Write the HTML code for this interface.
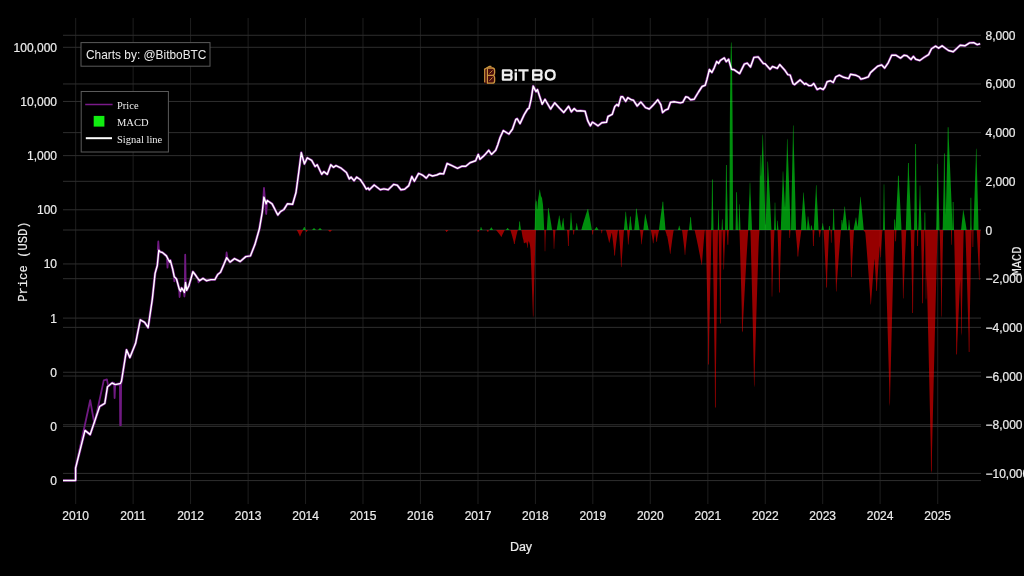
<!DOCTYPE html>
<html><head><meta charset="utf-8">
<style>
html,body{margin:0;padding:0;background:#000;}
body{width:1024px;height:576px;overflow:hidden;}
svg{display:block;will-change:transform;}
.gh{stroke:#2e2e2e;stroke-width:1;}
.gv{stroke:#1e1e1e;stroke-width:1;}
.tk{font-family:"Liberation Sans",sans-serif;font-size:12px;fill:#ececec;stroke:#ececec;stroke-width:0.2;}
.mono{font-family:"Liberation Mono",monospace;font-size:12px;fill:#ececec;stroke:#ececec;stroke-width:0.15;}
.lg{font-family:"Liberation Serif",serif;font-size:10.5px;fill:#eeeeee;}
</style></head><body>
<svg width="1024" height="576" viewBox="0 0 1024 576">
<rect x="0" y="0" width="1024" height="576" fill="#000"/>
<g><line class="gv" x1="75.7" y1="18" x2="75.7" y2="504"/>
<line class="gv" x1="133.13" y1="18" x2="133.13" y2="504"/>
<line class="gv" x1="190.55" y1="18" x2="190.55" y2="504"/>
<line class="gv" x1="248.13" y1="18" x2="248.13" y2="504"/>
<line class="gv" x1="305.56" y1="18" x2="305.56" y2="504"/>
<line class="gv" x1="362.98" y1="18" x2="362.98" y2="504"/>
<line class="gv" x1="420.41" y1="18" x2="420.41" y2="504"/>
<line class="gv" x1="477.99" y1="18" x2="477.99" y2="504"/>
<line class="gv" x1="535.42" y1="18" x2="535.42" y2="504"/>
<line class="gv" x1="592.84" y1="18" x2="592.84" y2="504"/>
<line class="gv" x1="650.27" y1="18" x2="650.27" y2="504"/>
<line class="gv" x1="707.85" y1="18" x2="707.85" y2="504"/>
<line class="gv" x1="765.28" y1="18" x2="765.28" y2="504"/>
<line class="gv" x1="822.7" y1="18" x2="822.7" y2="504"/>
<line class="gv" x1="880.13" y1="18" x2="880.13" y2="504"/>
<line class="gv" x1="937.71" y1="18" x2="937.71" y2="504"/>
<line class="gh" x1="63" y1="47.3" x2="981" y2="47.3"/>
<line class="gh" x1="63" y1="101.46" x2="981" y2="101.46"/>
<line class="gh" x1="63" y1="155.62" x2="981" y2="155.62"/>
<line class="gh" x1="63" y1="209.78" x2="981" y2="209.78"/>
<line class="gh" x1="63" y1="263.94" x2="981" y2="263.94"/>
<line class="gh" x1="63" y1="318.1" x2="981" y2="318.1"/>
<line class="gh" x1="63" y1="372.26" x2="981" y2="372.26"/>
<line class="gh" x1="63" y1="426.42" x2="981" y2="426.42"/>
<line class="gh" x1="63" y1="480.58" x2="981" y2="480.58"/>
<line class="gh" x1="63" y1="35.28" x2="981" y2="35.28"/>
<line class="gh" x1="63" y1="83.96" x2="981" y2="83.96"/>
<line class="gh" x1="63" y1="132.64" x2="981" y2="132.64"/>
<line class="gh" x1="63" y1="181.32" x2="981" y2="181.32"/>
<line class="gh" x1="63" y1="230" x2="981" y2="230"/>
<line class="gh" x1="63" y1="278.68" x2="981" y2="278.68"/>
<line class="gh" x1="63" y1="327.36" x2="981" y2="327.36"/>
<line class="gh" x1="63" y1="376.04" x2="981" y2="376.04"/>
<line class="gh" x1="63" y1="424.72" x2="981" y2="424.72"/>
<line class="gh" x1="63" y1="473.4" x2="981" y2="473.4"/></g>
<path d="M63 480.5 L75.6 480.5 L75.6 468 L85 430.4 L90.2 434.6 L99.6 406.5 L104.8 403.3 L107.5 386.7 L112 383 L115.2 384.6 L120.4 383.5 L121.5 381 L126.5 349.8 L129.9 357.6 L135.6 343.3 L140.3 319.8 L144.7 322.4 L148.1 327.7 L152.3 299.3 L155.1 273.4 L157.3 265.5 L158.8 250.2 L160.2 251.9 L162.4 252.5 L166.4 255.9 L168.1 259.3 L169.8 262.1 L170.3 260.4 L172.6 268.9 L174.3 276.8 L176.5 279 L179.3 289.2 L180.5 291.4 L181.6 288 L183.3 290.3 L184.4 292.5 L185.5 282.4 L186.7 290.3 L188.9 285.8 L192.9 271.7 L195.1 274.5 L197.4 277.9 L199.6 280.7 L203 278.4 L206.4 280.7 L210.9 279.6 L214.9 279.6 L217.7 274.5 L220.5 272.2 L223.4 265.5 L226.7 257.6 L230 262.1 L234.5 258.6 L240.2 261.5 L245.8 256.6 L250.4 255.9 L254.9 244.6 L259.4 228.8 L262.3 211.8 L263.9 197.1 L266.2 203.9 L267.3 200.5 L272.1 203.8 L277.8 215 L280.4 211.6 L283.9 209.5 L287.4 203.8 L292.6 204.3 L296 192.5 L298.6 173.4 L301.3 152.6 L304.4 163.9 L307.3 157.8 L311.7 160.4 L315.1 166.5 L317.2 164.7 L321.7 174.3 L323.8 171.7 L327.3 174.3 L330.8 164.7 L333.4 167.3 L336 165.6 L341.2 168.2 L346.4 172.5 L349.3 178.9 L351.1 177.1 L354.1 180.7 L356.6 177.1 L360.2 179.5 L363.2 183.8 L366.3 189.2 L368.1 188 L369.3 189.8 L374.2 185 L380.3 189.8 L383.9 188.9 L388.2 189.8 L393.6 184.4 L397.3 185.2 L400.9 189.8 L404.6 189.2 L408.8 185.6 L411.9 176.5 L414.3 181.3 L418.6 173.4 L421.6 174.7 L422.8 175.3 L426.3 178.1 L429 174.6 L432.5 176 L436.7 175 L440.1 173.5 L443.6 173.9 L447.1 163.5 L451.9 165.6 L457.5 168.3 L461.7 166.3 L465.8 166.3 L470 162.8 L475.6 160.7 L478.3 154.4 L480 159.3 L484.6 155.1 L488.75 150.3 L491.5 154.4 L495.7 150.3 L497.8 144.7 L500 137.8 L503.3 130.6 L508.9 134 L512.4 129.2 L515.8 119.4 L517.2 118.75 L520 123.6 L524.2 114.6 L527.6 109 L529 108.3 L531.1 99.3 L533.2 86.1 L534.6 88.9 L536 91.7 L537.4 89.6 L542.2 104.2 L545 99.3 L550.6 109 L554.7 102.8 L559.6 108.3 L563.75 112.5 L568.6 106.25 L571.4 111.8 L574.2 108.6 L576.8 111 L580.4 110.7 L585.1 111.25 L587.7 120.6 L590.3 125.8 L592.4 122.2 L595 123.75 L598.1 125.8 L601.8 122.7 L606.5 122.2 L608 116.5 L612.2 114.4 L614.8 106.6 L616.9 104.5 L618.4 106 L621 96.7 L622.6 96.7 L625.7 101.4 L627.8 97.7 L631.5 99.8 L633.5 100.3 L637.2 106 L640.8 101.9 L645.5 107.6 L649.3 109 L653.5 104.7 L657.8 99.8 L660.8 104.7 L662.6 112.6 L665.1 110.2 L668.1 109 L670.5 102.3 L674.2 101.7 L680.3 102.9 L682.7 102.3 L685.7 96.8 L688.2 97.4 L690.6 99.8 L694.2 99.2 L698.5 92 L702.1 86.5 L705.2 85.3 L707 79.2 L709.4 69.5 L711.9 72.5 L714.3 67.6 L716.7 61.5 L718.6 63.4 L720.4 60.3 L724.3 57.9 L726.2 61.7 L728.6 59.3 L731.5 69.3 L734.3 69.8 L739.6 73.6 L744.3 64.1 L747.2 63.1 L750.5 67 L753.9 57.4 L758.2 56.9 L763.4 63.6 L764.9 63.6 L770.1 69.3 L772.5 66.5 L777.3 68.4 L779.7 64.6 L784.9 70.3 L787.8 74.6 L790.2 75.1 L793 83.7 L794.5 84.6 L800.2 79.9 L804.5 84.3 L805.8 83.4 L808.9 85.6 L811.5 85.6 L813.7 83.4 L817.1 89.5 L820.2 88.2 L823.2 89.5 L824.9 87.3 L827.1 81.7 L830.6 80.8 L833.2 82.5 L835.8 76.9 L839.3 75.2 L843.6 77.3 L848.8 78.6 L850.5 74.3 L855.7 75.2 L859.2 76.9 L860.9 79.1 L864.4 78.2 L868.3 76.9 L870.5 72.6 L872.9 70.4 L877.6 66.3 L881.7 64.9 L884.6 68.1 L888.2 62.8 L891.7 55.2 L895.8 55.2 L900.5 58.1 L904 55.2 L906.9 55.8 L911 59.5 L913.4 56.4 L915.7 59.3 L919.8 60.5 L923.9 57.5 L928.6 54.6 L931.5 48.75 L935.6 46.2 L938.6 48.2 L942.1 45.8 L948.5 50.5 L953.2 51.7 L960.2 45.2 L964.9 45.8 L969.6 42.9 L973.7 42.7 L977.2 44.6 L980.2 43.8" fill="none" stroke="#701a82" stroke-width="2.7" stroke-linejoin="round"/>
<path d="M75.6 468 L90.2 400.2 L94.4 424 L103.75 380.4 L106.9 379.4 L108.3 386.7 L113 382.5 L114.2 383 L114.6 398 L115.2 384 L118.3 384.6 L119.9 384 L120.2 425.2 L120.8 425.2 L121.1 385 L123.5 370M157.8 250 L158.3 241.5 L158.9 250M184.8 290 L185.2 254.7 L185.7 285M226 259 L226.6 252.5 L227.5 259M263.2 200 L264 188 L265 200 L266.2 214 L267 202M167 259 L167.5 267.7 L168.2 260M173.8 274 L174.3 281.3 L175 277M179.1 289 L179.6 297 L180.3 291M183.9 292 L184.4 296.5 L185 290M198 278 L198.5 282.4 L199.2 280" fill="none" stroke="#701a82" stroke-width="1.8" stroke-linejoin="round"/>
<path d="M302.5 230 L302.5 230 L302.75 229.46 L303 228.99 L303.25 228.54 L303.5 228.11 L303.75 227.7 L304 226.9 L304.25 226.88 L304.5 226.9 L304.75 226.9 L305 228.02 L305.25 228.47 L305.5 228.94 L305.75 229.43 L306 230 L306 230ZM312 230 L312 230 L312.25 229.69 L312.5 229.43 L312.75 229.17 L313 228.93 L313.25 228.69 L313.5 228.46 L313.75 228.06 L314 228 L314.25 228.06 L314.5 228.46 L314.75 228.69 L315 228.93 L315.25 229.17 L315.5 229.43 L315.75 229.69 L316 230 L316 230ZM318 230 L318 230 L318.25 229.69 L318.5 229.43 L318.75 229.17 L319 228.93 L319.25 228.69 L319.5 228.46 L319.75 228.06 L320 228 L320.25 228.06 L320.5 228.46 L320.75 228.69 L321 228.93 L321.25 229.17 L321.5 229.43 L321.75 229.69 L322 230 L322 230ZM480 230 L480 230 L480.25 229.14 L480.5 228.39 L480.75 227.09 L481 227 L481.25 227.09 L481.5 227.92 L481.75 228.39 L482 228.88 L482.25 229.4 L482.5 230 L482.5 230ZM489.5 230 L489.5 230 L489.75 229.56 L490 229.19 L490.25 228.83 L490.5 228.48 L490.75 228.15 L491 227.38 L491.25 227.38 L491.5 227.38 L491.75 227.38 L492 228.23 L492.25 228.63 L492.5 229.05 L492.75 229.49 L493 230 L493 230ZM506 230 L506 230 L506.25 229.62 L506.5 229.3 L506.75 228.99 L507 228.69 L507.25 228.06 L507.5 228.06 L507.75 228.06 L508 228.06 L508.25 228.63 L508.5 228.88 L508.75 229.13 L509 229.4 L509.25 229.68 L509.5 230 L509.5 230ZM518.5 230 L518.5 230 L518.75 227.68 L519 225.67 L519.25 221.46 L519.5 221.46 L519.75 221.46 L520 221.46 L520.25 224.98 L520.5 226.52 L520.75 228.13 L521 230 L521 230ZM534.5 230 L534.5 230 L534.75 227.5 L535 215 L535.25 204.59 L535.5 202.53 L535.75 200.46 L536 198.4 L536.25 201.68 L536.5 200.8 L536.75 201.68 L537 209.73 L537.25 209 L537.5 206 L537.75 203 L538 200 L538.25 198.4 L538.5 196.79 L538.75 195.19 L539 193.59 L539.25 191.99 L539.5 190.33 L539.75 189.37 L540 190.33 L540.25 192.02 L540.5 193.35 L540.75 194.67 L541 196 L541.25 196.5 L541.5 197 L541.75 197.5 L542 198 L542.25 199.75 L542.5 201.5 L542.75 203.25 L543 205 L543.25 209.64 L543.5 214.29 L543.75 219.2 L544 225.2 L544.25 230 L544.25 230ZM546.75 230 L546.75 230 L547 226.3 L547.25 222.32 L547.5 218.57 L547.75 214.95 L548 207.98 L548.25 207.98 L548.5 207.98 L548.75 209.8 L549 211.2 L549.25 212.62 L549.5 214.05 L549.75 215.49 L550 216.95 L550.25 218.43 L550.5 219.93 L550.75 221.45 L551 223.01 L551.25 224.6 L551.5 226.25 L551.75 227.99 L552 230 L552 230ZM556.5 230 L556.5 230 L556.75 229.58 L557 227.88 L557.25 226.34 L557.5 224.88 L557.75 223.46 L558 222.07 L558.25 220.71 L558.5 219.37 L558.75 218.05 L559 215.64 L559.25 215.46 L559.5 215.64 L559.75 217.95 L560 219.52 L560.25 221.1 L560.5 222.72 L560.75 224.38 L561 226.1 L561.25 227.91 L561.5 226.78 L561.75 225.37 L562 224 L562.25 222.67 L562.5 221.36 L562.75 220.07 L563 218.17 L563.25 218.17 L563.5 218.17 L563.75 222.56 L564 224.84 L564.25 227.23 L564.5 230 L564.5 230ZM569.75 230 L569.75 230 L570 226.53 L570.25 222.8 L570.5 219.29 L570.75 213.12 L571 212.6 L571.25 213.12 L571.5 217.92 L571.75 220.68 L572 223.53 L572.25 226.53 L572.5 230 L572.5 230ZM575.5 230 L575.5 230 L575.75 228.29 L576 226.82 L576.25 225.41 L576.5 223.21 L576.75 223.21 L577 223.21 L577.25 225.73 L577.5 227.04 L577.75 228.41 L578 230 L578 230ZM581.25 230 L581.25 230 L581.5 229.5 L581.75 228.46 L582 227.49 L582.25 226.57 L582.5 225.67 L582.75 224.8 L583 223.94 L583.25 223.09 L583.5 222.26 L583.75 221.43 L584 220.62 L584.25 219.81 L584.5 219.01 L584.75 218.21 L585 217.43 L585.25 216.64 L585.5 215.86 L585.75 215.09 L586 214.32 L586.25 213.56 L586.5 212.8 L586.75 212.04 L587 211.29 L587.25 210.54 L587.5 209.24 L587.75 209.04 L588 209.09 L588.25 209.24 L588.5 211.59 L588.75 212.85 L589 214.12 L589.25 215.4 L589.5 216.7 L589.75 218 L590 219.33 L590.25 220.67 L590.5 222.04 L590.75 223.43 L591 224.86 L591.25 226.33 L591.5 227.87 L591.75 229.58 L592 230 L592 230ZM594.5 230 L594.5 230 L594.75 229.52 L595 229.11 L595.25 228.72 L595.5 228.34 L595.75 227.97 L596 227.61 L596.25 226.99 L596.5 226.9 L596.75 226.99 L597 227.61 L597.25 227.97 L597.5 228.34 L597.75 228.72 L598 229.11 L598.25 229.52 L598.5 230 L598.5 230ZM623.75 230 L623.75 230 L624 228.61 L624.25 225.71 L624.5 223.02 L624.75 220.46 L625 217.96 L625.25 215.53 L625.5 211.81 L625.75 211.65 L626 211.81 L626.25 215.73 L626.5 217.82 L626.75 219.95 L627 222.13 L627.25 224.39 L627.5 226.75 L627.75 229.35 L628 230 L628 230ZM628.75 230 L628.75 230 L629 227.85 L629.25 225.53 L629.5 223.35 L629.75 221.24 L630 216.42 L630.25 216.42 L630.5 216.42 L630.75 216.42 L631 220.83 L631.25 222.92 L631.5 225.09 L631.75 227.37 L632 230 L632 230ZM634.25 230 L634.25 230 L634.5 227.36 L634.75 224.53 L635 221.85 L635.25 219.27 L635.5 216.77 L635.75 214.31 L636 208.76 L636.25 208.76 L636.5 208.74 L636.75 208.76 L637 211.95 L637.25 213.59 L637.5 215.24 L637.75 216.91 L638 218.61 L638.25 220.33 L638.5 222.09 L638.75 223.89 L639 225.76 L639.25 227.73 L639.5 230 L639.5 230ZM643.25 230 L643.25 230 L643.5 228.81 L643.75 226.31 L644 224.01 L644.25 221.8 L644.5 219.66 L644.75 217.57 L645 214.38 L645.25 214.11 L645.5 214.38 L645.75 216.26 L646 217.35 L646.25 218.45 L646.5 219.57 L646.75 220.69 L647 221.83 L647.25 222.99 L647.5 224.17 L647.75 225.38 L648 226.62 L648.25 227.92 L648.5 229.33 L648.75 230 L648.75 230ZM659 230 L659 230 L659.25 227.54 L659.5 225.4 L659.75 223.38 L660 221.42 L660.25 219.51 L660.5 217.64 L660.75 215.8 L661 213.99 L661.25 212.2 L661.5 210.43 L661.75 208.68 L662 206.94 L662.25 205.22 L662.5 201.68 L662.75 201.68 L663 201.68 L663.25 201.68 L663.5 206.94 L663.75 209.55 L664 212.2 L664.25 214.89 L664.5 217.64 L664.75 220.46 L665 223.38 L665.25 226.45 L665.5 230 L665.5 230ZM678 230 L678 230 L678.25 228.95 L678.5 228.04 L678.75 227.18 L679 225.83 L679.25 225.83 L679.5 225.83 L679.75 227.38 L680 228.18 L680.25 229.02 L680.5 230 L680.5 230ZM689 230 L689 230 L689.25 227.52 L689.5 225.37 L689.75 223.33 L690 221.35 L690.25 217.2 L690.5 217.2 L690.75 217.2 L691 217.2 L691.25 222.47 L691.5 224.77 L691.75 227.2 L692 230 L692 230ZM711 230 L711 230 L711.25 227.02 L711.5 215.04 L711.75 204.18 L712 179.46 L712.25 179.46 L712.5 179.46 L712.75 179.46 L713 204.38 L713.25 216.27 L713.5 230 L713.5 230ZM717.75 230 L717.75 230 L718 223.52 L718.25 210.6 L718.5 210 L718.75 210.6 L719 223.52 L719.25 230 L719.25 230ZM721.5 230 L721.5 230 L721.75 225.65 L722 219.33 L722.25 219.33 L722.5 219.33 L722.75 226.14 L723 230 L723 230ZM725 230 L725 230 L725.25 215.79 L725.5 203.48 L725.75 191.8 L726 165.01 L726.25 165.01 L726.5 165.01 L726.75 165.01 L727 186.11 L727.25 196.12 L727.5 206.48 L727.75 217.4 L728 230 L728 230ZM729.25 230 L729.25 230 L729.5 202.5 L729.75 133.75 L730 103.43 L730.25 82.71 L730.5 62 L730.75 49.81 L731 42.5 L731.25 42.5 L731.5 42.5 L731.75 49.81 L732 62 L732.25 86.17 L732.5 110.33 L732.75 153 L733 208 L733.25 230 L733.25 230ZM735.5 230 L735.5 230 L735.75 219.72 L736 210.82 L736.25 192.17 L736.5 192.17 L736.75 192.17 L737 192.17 L737.25 207.76 L737.5 214.56 L737.75 221.73 L738 230 L738 230ZM738.5 230 L738.5 230 L738.75 222.53 L739 216.07 L739.25 204.78 L739.5 204 L739.75 204.78 L740 216.07 L740.25 222.53 L740.5 230 L740.5 230ZM748 230 L748 230 L748.25 222.61 L748.5 216.22 L748.75 210.15 L749 204.28 L749.25 198.56 L749.5 192.95 L749.75 183.44 L750 182 L750.25 183.44 L750.5 192.95 L750.75 198.56 L751 204.28 L751.25 210.15 L751.5 216.22 L751.75 222.61 L752 230 L752 230ZM759 230 L759 230 L759.25 211.33 L759.5 195.16 L759.75 179.82 L760 155.7 L760.25 155.32 L760.5 155.7 L760.75 174.83 L761 176.65 L761.25 170.37 L761.5 164.16 L761.75 158.02 L762 151.94 L762.25 145.91 L762.5 135.72 L762.75 133.98 L763 135.72 L763.25 146.98 L763.5 154.97 L763.75 163.06 L764 171.26 L764.25 179.59 L764.5 188.07 L764.75 196.76 L765 205.7 L765.25 215.04 L765.5 225.16 L765.75 223.75 L766 214.89 L766.25 206.6 L766.5 198.64 L766.75 190.9 L767 183.33 L767.25 175.89 L767.5 162 L767.75 161.34 L768 162 L768.25 167.84 L768.5 172.3 L768.75 176.79 L769 181.33 L769.25 185.92 L769.5 190.56 L769.75 195.26 L770 200.04 L770.25 204.9 L770.5 209.87 L770.75 214.98 L771 220.3 L771.25 225.99 L771.5 230 L771.5 230ZM774 230 L774 230 L774.25 222.02 L774.5 215.1 L774.75 203.03 L775 202.2 L775.25 203.03 L775.5 215.1 L775.75 222.02 L776 230 L776 230ZM776.75 230 L776.75 230 L777 226.96 L777.25 220.88 L777.5 220.6 L777.75 220.88 L778 224.96 L778.25 227.3 L778.5 230 L778.5 230ZM780.75 230 L780.75 230 L781 223.15 L781.25 215.78 L781.5 208.84 L781.75 202.15 L782 195.63 L782.25 189.25 L782.5 182.98 L782.75 172.48 L783 170.7 L783.25 172.48 L783.5 179.67 L783.75 184.23 L784 188.83 L784.25 193.49 L784.5 198.22 L784.75 203.03 L785 207.94 L785.25 201.61 L785.5 193.22 L785.75 185.04 L786 177.03 L786.25 169.14 L786.5 161.37 L786.75 153.7 L787 139.89 L787.25 138.59 L787.5 139.89 L787.75 148.94 L788 155.61 L788.25 162.34 L788.5 169.14 L788.75 176.03 L789 183.03 L789.25 190.13 L789.5 197.39 L789.75 204.83 L790 212.52 L790.25 220.63 L790.5 230 L790.5 230ZM791 230 L791 230 L791.25 214.89 L791.5 201.8 L791.75 189.38 L792 177.37 L792.25 165.67 L792.5 154.2 L792.75 142.92 L793 126.21 L793.25 124.72 L793.5 126.21 L793.75 142.12 L794 150.96 L794.25 159.91 L794.5 168.99 L794.75 178.22 L795 187.64 L795.25 197.3 L795.5 207.3 L795.75 217.84 L796 230 L796 230ZM801 230 L801 230 L801.25 225.22 L801.5 221.07 L801.75 217.14 L802 213.34 L802.25 209.64 L802.5 206.01 L802.75 202.43 L803 198.91 L803.25 193.14 L803.5 192 L803.75 193.14 L804 197.75 L804.25 200.67 L804.5 203.62 L804.75 206.61 L805 209.64 L805.25 212.72 L805.5 215.86 L805.75 219.09 L806 222.42 L806.25 225.94 L806.5 230 L806.5 230ZM806.75 230 L806.75 230 L807 227.27 L807.25 224.33 L807.5 221.57 L807.75 216.71 L808 216.3 L808.25 216.71 L808.5 219.43 L808.75 221.03 L809 222.66 L809.25 224.33 L809.5 226.07 L809.75 227.89 L810 230 L810 230ZM810.5 230 L810.5 230 L810.75 228.52 L811 225.44 L811.25 225.44 L811.5 225.44 L811.75 225.44 L812 227.69 L812.25 228.76 L812.5 230 L812.5 230ZM813.75 230 L813.75 230 L814 225.1 L814.25 219.83 L814.5 214.86 L814.75 210.07 L815 205.4 L815.25 200.84 L815.5 196.35 L815.75 191.92 L816 185.48 L816.25 185 L816.5 185.48 L816.75 194.11 L817 198.76 L817.25 203.49 L817.5 208.31 L817.75 213.26 L818 218.38 L818.25 223.77 L818.5 230 L818.5 230ZM821.5 230 L821.5 230 L821.75 228.29 L822 226.82 L822.25 225.41 L822.5 223.21 L822.75 223.21 L823 223.21 L823.25 225.73 L823.5 227.04 L823.75 228.41 L824 230 L824 230ZM828.75 230 L828.75 230 L829 226.02 L829.25 226.02 L829.5 226.02 L829.75 226.02 L830 228.82 L830.25 230 L830.25 230ZM832.5 230 L832.5 230 L832.75 226.08 L833 220.53 L833.25 209.05 L833.5 209.05 L833.75 209.05 L834 209.05 L834.25 221.6 L834.5 227.28 L834.75 230 L834.75 230ZM841 230 L841 230 L841.25 226.75 L841.5 220.01 L841.75 220.01 L842 220.01 L842.25 220.01 L842.5 224.76 L842.75 222.45 L843 220.22 L843.25 218.05 L843.5 215.92 L843.75 213.82 L844 211.76 L844.25 209.72 L844.5 206.82 L844.75 206.53 L845 206.82 L845.25 210.89 L845.5 213.11 L845.75 215.36 L846 217.65 L846.25 220 L846.5 222.4 L846.75 224.89 L847 227.54 L847.25 230 L847.25 230ZM848 230 L848 230 L848.25 227.04 L848.5 224.48 L848.75 220.01 L849 219.7 L849.25 220.01 L849.5 223.35 L849.75 225.25 L850 227.25 L850.25 229.45 L850.5 230 L850.5 230ZM853.5 230 L853.5 230 L853.75 228.41 L854 227.04 L854.25 225.74 L854.5 224.48 L854.75 223.25 L855 222.04 L855.25 220.86 L855.5 219.69 L855.75 217.78 L856 217.4 L856.25 217.78 L856.5 220.27 L856.75 221.75 L857 223.25 L857.25 224.79 L857.5 226.38 L857.75 226.42 L858 223.32 L858.25 220.38 L858.5 217.54 L858.75 214.76 L859 212.05 L859.25 209.38 L859.5 206.74 L859.75 204.14 L860 201.57 L860.25 197.5 L860.5 196.5 L860.75 197.5 L861 201.25 L861.25 203.66 L861.5 206.09 L861.75 208.55 L862 211.04 L862.25 213.57 L862.5 216.14 L862.75 218.77 L863 221.47 L863.25 224.27 L863.5 227.24 L863.75 230 L863.75 230ZM883 230 L883 230 L883.25 216.7 L883.5 205.19 L883.75 185.09 L884 183.7 L884.25 185.09 L884.5 205.19 L884.75 216.7 L885 230 L885 230ZM894 230 L894 230 L894.25 219.52 L894.5 219.52 L894.75 219.52 L895 219.52 L895.25 226.59 L895.5 230 L895.5 230ZM895.5 230 L895.5 230 L895.75 223.83 L896 218.49 L896.25 213.42 L896.5 208.52 L896.75 203.74 L897 199.06 L897.25 194.46 L897.5 189.92 L897.75 185.43 L898 175.68 L898.25 175.68 L898.5 175.63 L898.75 175.68 L899 183.86 L899.25 188.03 L899.5 192.25 L899.75 196.53 L900 200.86 L900.25 205.27 L900.5 209.77 L900.75 214.39 L901 219.16 L901.25 224.19 L901.5 230 L901.5 230ZM905.75 230 L905.75 230 L906 223.14 L906.25 215.77 L906.5 208.82 L906.75 202.12 L907 195.59 L907.25 189.21 L907.5 182.93 L907.75 176.74 L908 163.07 L908.25 163.07 L908.5 163.07 L908.75 163.07 L909 173.99 L909.25 179.5 L909.5 185.08 L909.75 190.74 L910 196.48 L910.25 202.35 L910.5 208.35 L910.75 214.55 L911 221.04 L911.25 228.21 L911.5 230 L911.5 230ZM914 230 L914 230 L914.25 218.85 L914.5 203.03 L914.75 188.26 L915 174.05 L915.25 144.06 L915.5 144.06 L915.75 144.06 L916 144.06 L916.25 176.86 L916.5 191.16 L916.75 206.09 L917 222.26 L917.25 230 L917.25 230ZM918.25 230 L918.25 230 L918.5 226.27 L918.75 218.49 L919 211.3 L919.25 204.42 L919.5 197.74 L919.75 186.16 L920 184.8 L920.25 186.16 L920.5 198.62 L920.75 205.78 L921 213.18 L921.25 220.99 L921.5 230 L921.5 230ZM924.25 230 L924.25 230 L924.5 212.54 L924.75 212.54 L925 212.54 L925.25 212.54 L925.5 230 L925.5 230ZM936 230 L936 230 L936.25 226.82 L936.5 214.03 L936.75 202.44 L937 191.38 L937.25 180.67 L937.5 164.04 L937.75 163.7 L938 164.04 L938.25 181.02 L938.5 189.94 L938.75 199.07 L939 208.53 L939.25 218.49 L939.5 230 L939.5 230ZM942.5 230 L942.5 230 L942.75 226.7 L943 213.46 L943.25 201.46 L943.5 190.01 L943.75 178.93 L944 153.56 L944.25 153.56 L944.5 153.56 L944.75 153.56 L945 178.38 L945.25 190.16 L945.5 202.34 L945.75 215.18 L946 205.98 L946.25 195.41 L946.5 185.19 L946.75 175.22 L947 165.45 L947.25 155.84 L947.5 146.37 L947.75 127.28 L948 127.28 L948.25 127.28 L948.5 127.28 L948.75 138.29 L949 143.81 L949.25 149.37 L949.5 154.98 L949.75 160.63 L950 166.33 L950.25 172.09 L950.5 177.91 L950.75 183.81 L951 189.8 L951.25 195.88 L951.5 202.09 L951.75 208.46 L952 215.04 L952.25 221.98 L952.5 230 L952.5 230ZM952.5 230 L952.5 230 L952.75 201.97 L953 201.97 L953.25 201.97 L953.5 201.97 L953.75 220.88 L954 230 L954 230ZM961 230 L961 230 L961.25 228.2 L961.5 225.64 L961.75 223.26 L962 220.96 L962.25 218.73 L962.5 216.55 L962.75 214.41 L963 210.41 L963.25 210.21 L963.5 210.41 L963.75 212.3 L964 213.7 L964.25 215.12 L964.5 216.55 L964.75 218 L965 219.47 L965.25 220.96 L965.5 222.48 L965.75 224.04 L966 225.64 L966.25 227.32 L966.5 229.13 L966.75 230 L966.75 230ZM970 230 L970 230 L970.25 226.91 L970.5 197.8 L970.75 197.8 L971 197.8 L971.25 197.8 L971.5 224.24 L971.75 230 L971.75 230ZM973.5 230 L973.5 230 L973.75 220.55 L974 212.37 L974.25 204.61 L974.5 197.1 L974.75 189.79 L975 182.61 L975.25 175.56 L975.5 168.61 L975.75 161.75 L976 149.39 L976.25 148.24 L976.5 149.39 L976.75 162.37 L977 171.13 L977.25 180.04 L977.5 189.13 L977.75 198.45 L978 208.1 L978.25 218.26 L978.5 230 L978.5 230Z" fill="#00ff18" fill-opacity="0.56"/>
<path d="M296.75 230 L296.75 230 L297 230.31 L297.25 230.75 L297.5 231.22 L297.75 231.71 L298 232.21 L298.25 232.72 L298.5 233.24 L298.75 233.77 L299 234.3 L299.25 234.85 L299.5 235.39 L299.75 236.31 L300 236.5 L300.25 236.31 L300.5 235.43 L300.75 234.89 L301 234.37 L301.25 233.85 L301.5 233.34 L301.75 232.83 L302 232.33 L302.25 231.84 L302.5 231.37 L302.75 230.91 L303 230.46 L303.25 230.06 L303.5 230 L303.5 230ZM305 230 L305 230 L305.25 230.28 L305.5 230.6 L305.75 230.93 L306 231.28 L306.25 231.94 L306.5 232 L306.75 231.94 L307 231.28 L307.25 230.93 L307.5 230.6 L307.75 230.28 L308 230 L308 230ZM328 230 L328 230 L328.25 230.2 L328.5 230.44 L328.75 230.68 L329 230.93 L329.25 231.19 L329.5 231.46 L329.75 231.94 L330 232 L330.25 231.94 L330.5 231.46 L330.75 231.19 L331 230.93 L331.25 230.68 L331.5 230.44 L331.75 230.2 L332 230 L332 230ZM445 230 L445 230 L445.25 230.24 L445.5 230.52 L445.75 230.81 L446 231.12 L446.25 231.94 L446.5 231.94 L446.75 231.94 L447 231.94 L447.25 231.34 L447.5 231.05 L447.75 230.76 L448 230.49 L448.25 230.23 L448.5 230 L448.5 230ZM477 230 L477 230 L477.25 230.36 L477.5 230.76 L477.75 231.94 L478 231.94 L478.25 231.94 L478.5 231.94 L478.75 231.09 L479 230.7 L479.25 230.33 L479.5 230 L479.5 230ZM486.5 230 L486.5 230 L486.75 230.33 L487 230.7 L487.25 231.09 L487.5 231.94 L487.75 231.94 L488 231.94 L488.25 231.94 L488.5 230.76 L488.75 230.36 L489 230 L489 230ZM496 230 L496 230 L496.25 230.23 L496.5 230.5 L496.75 230.79 L497 231.08 L497.25 231.38 L497.5 231.69 L497.75 232 L498 232.31 L498.25 232.63 L498.5 232.96 L498.75 233.28 L499 233.61 L499.25 233.95 L499.5 234.28 L499.75 234.62 L500 234.96 L500.25 235.3 L500.5 235.65 L500.75 235.99 L501 236.69 L501.25 236.69 L501.5 236.69 L501.75 236.69 L502 235.57 L502.25 235.03 L502.5 234.49 L502.75 233.96 L503 233.43 L503.25 232.91 L503.5 232.4 L503.75 231.89 L504 231.4 L504.25 230.93 L504.5 230.48 L504.75 230.07 L505 230 L505 230ZM510.25 230 L510.25 230 L510.5 230.52 L510.75 231.27 L511 232.06 L511.25 232.88 L511.5 233.73 L511.75 234.59 L512 235.47 L512.25 236.36 L512.5 237.26 L512.75 238.17 L513 239.09 L513.25 240.03 L513.5 240.96 L513.75 241.91 L514 243.97 L514.25 243.97 L514.5 243.97 L514.75 243.97 L515 241.63 L515.25 240.49 L515.5 239.37 L515.75 238.25 L516 237.15 L516.25 236.07 L516.5 235 L516.75 233.95 L517 232.93 L517.25 231.94 L517.5 231 L517.75 230.14 L518 230 L518 230ZM521.25 230 L521.25 230 L521.5 230.74 L521.75 232.13 L522 233.65 L522.25 235.17 L522.5 236.69 L522.75 237.81 L523 238.66 L523.25 239.5 L523.5 240.38 L523.75 242.61 L524 243 L524.25 242.89 L524.5 243.33 L524.75 243.15 L525 242.97 L525.25 242.79 L525.5 242.61 L525.75 242.43 L526 242.24 L526.25 242.24 L526.5 242.95 L526.75 243.67 L527 244.38 L527.25 247.46 L527.5 248 L527.75 247.46 L528 244.08 L528.25 242.74 L528.5 241.72 L528.75 241.05 L529 241.82 L529.25 242.6 L529.5 243.37 L529.75 244.14 L530 245.5 L530.25 247.75 L530.5 250 L530.75 256.25 L531 262.5 L531.25 268.75 L531.5 275 L531.75 282.17 L532 289.33 L532.25 296.5 L532.5 303.67 L532.75 310.83 L533 318 L533.25 316.14 L533.5 315.36 L533.75 297.75 L534 290 L534.25 279.82 L534.5 271.05 L534.75 262.46 L535 254.07 L535.25 245.94 L535.5 238.18 L535.75 231.14 L536 230 L536 230ZM544.25 230 L544.25 230 L544.5 235.44 L544.75 250.95 L545 251.6 L545.25 250.95 L545.5 240.08 L545.75 234.7 L546 230 L546 230ZM553 230 L553 230 L553.25 234.14 L553.5 238.86 L553.75 248.43 L554 249 L554.25 248.43 L554.5 242.16 L554.75 238.86 L555 235.67 L555.25 232.65 L555.5 230 L555.5 230ZM567 230 L567 230 L567.25 232.47 L567.5 235.28 L567.75 238.25 L568 245.91 L568.25 245.91 L568.5 245.91 L568.75 245.91 L569 236.89 L569.25 233.21 L569.5 230 L569.5 230ZM573 230 L573 230 L573.25 234.56 L573.5 234.56 L573.75 234.56 L574 234.56 L574.25 231.15 L574.5 230 L574.5 230ZM592 230 L592 230 L592.25 234.56 L592.5 234.56 L592.75 234.56 L593 234.56 L593.25 231.15 L593.5 230 L593.5 230ZM601 230 L601 230 L601.25 231.1 L601.5 233.3 L601.75 233.3 L602 233.3 L602.25 230.95 L602.5 230 L602.5 230ZM605.75 230 L605.75 230 L606 230.27 L606.25 231.07 L606.5 231.93 L606.75 232.83 L607 233.76 L607.25 234.71 L607.5 235.67 L607.75 236.66 L608 237.65 L608.25 238.66 L608.5 239.68 L608.75 240.71 L609 242.61 L609.25 242.79 L609.5 242.61 L609.75 241 L610 239.91 L610.25 238.82 L610.5 237.75 L610.75 236.69 L611 235.65 L611.25 234.62 L611.5 233.62 L611.75 232.64 L612 233.52 L612.25 235.5 L612.5 237.55 L612.75 239.65 L613 241.79 L613.25 243.97 L613.5 246.18 L613.75 248.42 L614 250.68 L614.25 255.41 L614.5 255.41 L614.75 255.41 L615 255.41 L615.25 250.75 L615.5 248.68 L615.75 246.64 L616 244.62 L616.25 242.62 L616.5 240.65 L616.75 238.72 L617 236.82 L617.25 234.97 L617.5 233.18 L617.75 231.48 L618 230 L618 230ZM618.75 230 L618.75 230 L619 232.36 L619.25 235.76 L619.5 239.37 L619.75 243.11 L620 246.95 L620.25 250.87 L620.5 254.86 L620.75 258.91 L621 266.86 L621.25 267.16 L621.5 266.86 L621.75 261.09 L622 257.32 L622.25 253.58 L622.5 249.91 L622.75 246.29 L623 242.74 L623.25 239.29 L623.5 235.94 L623.75 232.77 L624 230 L624 230ZM627 230 L627 230 L627.25 232.45 L627.5 235.24 L627.75 238.19 L628 244.55 L628.25 244.55 L628.5 244.55 L628.75 240.7 L629 238.37 L629.25 236.1 L629.5 233.9 L629.75 231.82 L630 230 L630 230ZM640 230 L640 230 L640.25 232.02 L640.5 234.33 L640.75 236.76 L641 239.28 L641.25 244.06 L641.5 244.5 L641.75 244.06 L642 240.57 L642.25 238.65 L642.5 236.76 L642.75 234.93 L643 233.16 L643.25 231.47 L643.5 230 L643.5 230ZM650.75 230 L650.75 230 L651 230.88 L651.25 232.16 L651.5 233.51 L651.75 234.91 L652 236.34 L652.25 237.81 L652.5 239.31 L652.75 240.82 L653 243.19 L653.25 243.28 L653.5 243.19 L653.75 240.07 L654 238.5 L654.25 236.95 L654.5 235.44 L654.75 233.96 L655 232.54 L655.25 233.87 L655.5 235.31 L655.75 236.78 L656 238.29 L656.25 241.64 L656.5 241.64 L656.75 241.64 L657 241.64 L657.25 238.62 L657.5 237.34 L657.75 236.09 L658 234.86 L658.25 233.66 L658.5 232.5 L658.75 231.38 L659 230.35 L659.25 230 L659.25 230ZM665 230 L665 230 L665.25 230.61 L665.5 231.31 L665.75 232.04 L666 232.8 L666.25 233.58 L666.5 234.37 L666.75 235.82 L667 236 L667.25 236.24 L667.5 237.63 L667.75 239.04 L668 240.47 L668.25 241.92 L668.5 243.38 L668.75 244.86 L669 246.35 L669.25 247.86 L669.5 249.38 L669.75 250.9 L670 253.57 L670.25 253.99 L670.5 253.57 L670.75 250.79 L671 248.86 L671.25 246.95 L671.5 245.05 L671.75 243.18 L672 241.34 L672.25 239.52 L672.5 237.73 L672.75 235.98 L673 234.27 L673.25 232.63 L673.5 231.08 L673.75 230 L673.75 230ZM682 230 L682 230 L682.25 231.64 L682.5 233.52 L682.75 235.51 L683 237.56 L683.25 239.66 L683.5 241.8 L683.75 243.98 L684 246.2 L684.25 248.44 L684.5 250.7 L684.75 254.54 L685 255.3 L685.25 254.54 L685.5 250.55 L685.75 248.2 L686 245.89 L686.25 243.61 L686.5 241.36 L686.75 239.15 L687 236.98 L687.25 234.88 L687.5 232.86 L687.75 230.97 L688 230 L688 230ZM694.5 230 L694.5 230 L694.75 230.87 L695 231.86 L695.25 232.91 L695.5 234 L695.75 235.11 L696 236.24 L696.25 237.4 L696.5 238.57 L696.75 239.75 L697 240.95 L697.25 242.16 L697.5 243.39 L697.75 244.62 L698 245.86 L698.25 247.11 L698.5 248.37 L698.75 249.63 L699 250.91 L699.25 252.19 L699.5 253.48 L699.75 254.77 L700 256.07 L700.25 257.38 L700.5 258.69 L700.75 260.01 L701 261.33 L701.25 262.66 L701.5 264.53 L701.75 265.33 L702 264.53 L702.25 259.77 L702.5 256.58 L702.75 253.42 L703 250.3 L703.25 247.22 L703.5 244.19 L703.75 241.22 L704 238.32 L704.25 235.51 L704.5 232.83 L704.75 230.39 L705 230 L705 230ZM705.5 230 L705.5 230 L705.75 235.14 L706 245.12 L706.25 255.79 L706.5 266.89 L706.75 278.31 L707 289.98 L707.25 301.86 L707.5 313.92 L707.75 326.14 L708 338.51 L708.25 364.54 L708.5 364.54 L708.75 364.54 L709 364.54 L709.25 336.03 L709.5 323.69 L709.75 311.5 L710 299.47 L710.25 287.62 L710.5 276 L710.75 264.64 L711 253.62 L711.25 243.05 L711.5 233.29 L711.75 230 L711.75 230ZM712.5 230 L712.5 230 L712.75 242.35 L713 256.47 L713.25 271.34 L713.5 286.73 L713.75 302.51 L714 318.62 L714.25 334.99 L714.5 351.6 L714.75 368.42 L715 407.51 L715.25 407.51 L715.5 407.51 L715.75 407.51 L716 367.12 L716.25 348.39 L716.5 329.93 L716.75 311.77 L717 293.97 L717.25 276.62 L717.5 259.84 L717.75 243.92 L718 230 L718 230ZM718.5 230 L718.5 230 L718.75 236.27 L719 248.45 L719.25 261.47 L719.5 275.02 L719.75 288.95 L720 323.61 L720.25 323.61 L720.5 323.61 L720.75 323.61 L721 282.14 L721.25 264.53 L721.5 247.73 L721.75 232.47 L722 230 L722 230ZM722.25 230 L722.25 230 L722.5 232.23 L722.75 238.86 L723 246.03 L723.25 253.51 L723.5 269.48 L723.75 269.48 L724 269.48 L724.25 259.02 L724.5 252.7 L724.75 246.55 L725 240.59 L725.25 234.94 L725.5 230 L725.5 230ZM726.5 230 L726.5 230 L726.75 231.42 L727 234.18 L727.25 237.14 L727.5 244.84 L727.75 244.84 L728 244.84 L728.25 244.84 L728.5 234.57 L728.75 230.64 L729 230 L729 230ZM739.25 230 L739.25 230 L739.5 232.48 L739.75 239.83 L740 247.78 L740.25 256.08 L740.5 264.63 L740.75 273.37 L741 282.29 L741.25 291.34 L741.5 300.52 L741.75 309.81 L742 331.27 L742.25 331.27 L742.5 332.46 L742.75 331.27 L743 322.78 L743.25 317.98 L743.5 313.2 L743.75 308.45 L744 303.72 L744.25 299.02 L744.5 294.35 L744.75 289.71 L745 285.1 L745.25 280.52 L745.5 275.99 L745.75 271.49 L746 267.04 L746.25 262.64 L746.5 258.29 L746.75 254 L747 249.77 L747.25 245.63 L747.5 241.59 L747.75 237.68 L748 233.94 L748.25 230.55 L748.5 230 L748.5 230ZM750.25 230 L750.25 230 L750.5 232.91 L750.75 241.55 L751 250.9 L751.25 260.66 L751.5 270.71 L751.75 281 L752 291.48 L752.25 302.12 L752.5 312.91 L752.75 323.83 L753 334.87 L753.25 346.01 L753.5 357.26 L753.75 368.59 L754 384.42 L754.25 387.45 L754.5 384.42 L754.75 370.05 L755 361.42 L755.25 352.84 L755.5 344.31 L755.75 335.85 L756 327.44 L756.25 319.1 L756.5 310.83 L756.75 302.64 L757 294.53 L757.25 286.51 L757.5 278.59 L757.75 270.79 L758 263.13 L758.25 255.62 L758.5 248.31 L758.75 241.26 L759 236.87 L759.25 233.2 L759.5 230 L759.5 230ZM770.5 230 L770.5 230 L770.75 239.4 L771 250.16 L771.25 261.49 L771.5 273.21 L771.75 295.48 L772 297.5 L772.25 295.48 L772.5 282.81 L772.75 275.59 L773 268.48 L773.25 261.49 L773.5 254.64 L773.75 247.95 L774 241.49 L774.25 235.36 L774.5 230 L774.5 230ZM777.5 230 L777.5 230 L777.75 236.93 L778 244.85 L778.25 253.2 L778.5 261.84 L778.75 270.69 L779 292.56 L779.25 292.56 L779.5 292.56 L779.75 292.56 L780 274.55 L780.25 266.45 L780.5 258.52 L780.75 250.78 L781 243.3 L781.25 236.21 L781.5 230 L781.5 230ZM789 230 L789 230 L789.25 232.67 L789.5 238.05 L789.75 238.05 L790 238.05 L790.25 232.31 L790.5 230 L790.5 230ZM795.5 230 L795.5 230 L795.75 232.26 L796 234.84 L796.25 237.57 L796.5 240.38 L796.75 243.27 L797 246.22 L797.25 249.22 L797.5 256.38 L797.75 256.38 L798 256.38 L798.25 256.38 L798.5 252.26 L798.75 250.23 L799 248.21 L799.25 246.22 L799.5 244.25 L799.75 242.3 L800 240.38 L800.25 238.5 L800.5 236.65 L800.75 234.84 L801 233.1 L801.25 231.45 L801.5 230 L801.5 230ZM812.5 230 L812.5 230 L812.75 234.01 L813 245.91 L813.25 245.91 L813.5 245.91 L813.75 245.91 L814 236.89 L814.25 233.21 L814.5 230 L814.5 230ZM818.5 230 L818.5 230 L818.75 231.32 L819 232.82 L819.25 234.41 L819.5 237.18 L819.75 237.18 L820 237.18 L820.25 234.04 L820.5 232.59 L820.75 231.21 L821 230 L821 230ZM823.5 230 L823.5 230 L823.75 233.72 L824 237.97 L824.25 242.45 L824.5 247.08 L824.75 251.84 L825 256.68 L825.25 261.62 L825.5 266.62 L825.75 271.68 L826 276.8 L826.25 287.52 L826.5 287.52 L826.75 287.52 L827 287.52 L827.25 273.21 L827.5 267.16 L827.75 261.2 L828 255.33 L828.25 249.59 L828.5 244 L828.75 238.61 L829 233.53 L829.25 230 L829.25 230ZM830.5 230 L830.5 230 L830.75 234.22 L831 242.71 L831.25 242.71 L831.5 242.71 L831.75 233.64 L832 230 L832 230ZM834 230 L834 230 L834.25 235.72 L834.5 242.27 L834.75 249.16 L835 256.3 L835.25 263.61 L835.5 271.08 L835.75 278.67 L836 290.72 L836.25 291.88 L836.5 290.72 L836.75 284.76 L837 281.22 L837.25 277.71 L837.5 274.23 L837.75 270.76 L838 267.33 L838.25 263.92 L838.5 260.55 L838.75 257.2 L839 253.9 L839.25 250.63 L839.5 247.41 L839.75 244.25 L840 241.15 L840.25 238.12 L840.5 235.2 L840.75 232.43 L841 230 L841 230ZM849.5 230 L849.5 230 L849.75 235.22 L850 241.19 L850.25 247.48 L850.5 253.99 L850.75 260.66 L851 277.14 L851.25 277.14 L851.5 277.14 L851.75 277.14 L852 266.42 L852.25 261.44 L852.5 256.54 L852.75 251.72 L853 246.99 L853.25 242.38 L853.5 237.93 L853.75 233.7 L854 230 L854 230ZM863.25 230 L863.25 230 L863.5 230.11 L863.75 230.42 L864 230.76 L864.25 231.11 L864.5 231.48 L864.75 231.85 L865 232.23 L865.25 232.62 L865.5 235.11 L865.75 237.99 L866 240.96 L866.25 244.01 L866.5 247.12 L866.75 250.29 L867 253.5 L867.25 256.75 L867.5 260.04 L867.75 263.36 L868 266.71 L868.25 270.08 L868.5 273.49 L868.75 276.92 L869 280.37 L869.25 283.84 L869.5 287.34 L869.75 290.85 L870 294.38 L870.25 297.93 L870.5 303.53 L870.75 305.08 L871 303.53 L871.25 299.77 L871.5 296.44 L871.75 293.13 L872 289.83 L872.25 286.55 L872.5 283.28 L872.75 280.03 L873 276.81 L873.25 273.6 L873.5 270.41 L873.75 267.25 L874 264.11 L874.25 261 L874.5 258.42 L874.75 262.35 L875 266.33 L875.25 270.34 L875.5 274.4 L875.75 278.48 L876 282.6 L876.25 290.72 L876.5 290.92 L876.75 290.72 L877 290.72 L877.25 282.51 L877.5 278.67 L877.75 274.86 L878 271.08 L878.25 267.33 L878.5 263.61 L878.75 259.93 L879 256.3 L879.25 252.7 L879.5 249.16 L879.75 245.68 L880 248.37 L880.25 251.77 L880.5 257.16 L880.75 257.16 L881 257.16 L881.25 248.22 L881.5 243.91 L881.75 239.72 L882 235.7 L882.25 231.94 L882.5 230 L882.5 230ZM884.5 230 L884.5 230 L884.75 236.19 L885 243.26 L885.25 250.71 L885.5 258.43 L885.75 266.33 L886 274.4 L886.25 282.61 L886.5 290.93 L886.75 299.36 L887 307.88 L887.25 316.49 L887.5 325.18 L887.75 333.94 L888 342.77 L888.25 351.66 L888.5 360.61 L888.75 369.62 L889 378.68 L889.25 387.79 L889.5 402.66 L889.75 406.15 L890 402.66 L890.25 389.35 L890.5 379.07 L890.75 368.85 L891 358.7 L891.25 348.63 L891.5 338.63 L891.75 328.71 L892 318.89 L892.25 309.16 L892.5 299.54 L892.75 290.04 L893 280.68 L893.25 271.47 L893.5 262.44 L893.75 253.64 L894 245.13 L894.25 237.06 L894.5 230 L894.5 230ZM895 230 L895 230 L895.25 241.16 L895.5 241.16 L895.75 241.16 L896 241.16 L896.25 232.81 L896.5 230 L896.5 230ZM901.25 230 L901.25 230 L901.5 235.59 L901.75 243.64 L902 252.18 L902.25 261.04 L902.5 270.14 L902.75 279.42 L903 298.29 L903.25 298.47 L903.5 298.29 L903.75 288.88 L904 282.56 L904.25 276.31 L904.5 270.14 L904.75 264.05 L905 258.06 L905.25 252.18 L905.5 246.45 L905.75 240.89 L906 235.59 L906.25 230.78 L906.5 230 L906.5 230ZM910.5 230 L910.5 230 L910.75 234.95 L911 244.56 L911.25 254.83 L911.5 265.52 L911.75 276.52 L912 287.75 L912.25 312.94 L912.5 312.94 L912.75 312.94 L913 312.94 L913.25 285.49 L913.5 274.3 L913.75 263.36 L914 252.74 L914.25 242.57 L914.5 233.17 L914.75 230 L914.75 230ZM917 230 L917 230 L917.25 245.91 L917.5 245.91 L917.75 245.91 L918 245.91 L918.25 230.9 L918.5 230 L918.5 230ZM920.75 230 L920.75 230 L921 233.34 L921.25 243.25 L921.5 253.98 L921.75 265.18 L922 276.71 L922.25 303.14 L922.5 303.14 L922.75 303.14 L923 303.14 L923.25 278.93 L923.5 269.06 L923.75 259.42 L924 250.05 L924.25 241.08 L924.5 232.79 L924.75 230 L924.75 230ZM925 230 L925 230 L925.25 245.23 L925.5 262.66 L925.75 297.9 L926 300 L926.25 297.9 L926.5 281.01 L926.75 274.99 L927 284.98 L927.25 295.14 L927.5 305.45 L927.75 315.88 L928 326.44 L928.25 337.1 L928.5 347.85 L928.75 358.7 L929 369.63 L929.25 380.64 L929.5 391.73 L929.75 402.88 L930 414.1 L930.25 425.38 L930.5 436.72 L930.75 448.12 L931 470.56 L931.25 471.07 L931.5 473.67 L931.75 470.56 L932 452.15 L932.25 441.45 L932.5 430.81 L932.75 420.21 L933 409.67 L933.25 399.19 L933.5 388.76 L933.75 378.4 L934 368.1 L934.25 357.87 L934.5 347.72 L934.75 337.64 L935 327.65 L935.25 317.75 L935.5 307.95 L935.75 298.27 L936 288.7 L936.25 279.28 L936.5 270.02 L936.75 260.95 L937 252.12 L937.25 243.61 L937.5 235.58 L937.75 230 L937.75 230ZM939.5 230 L939.5 230 L939.75 231.71 L940 242.26 L940.25 253.88 L940.5 266.06 L940.75 278.64 L941 291.52 L941.25 315.36 L941.5 318 L941.75 315.36 L942 289.99 L942.25 276.4 L942.5 263.16 L942.75 250.39 L943 238.36 L943.25 230 L943.25 230ZM951 230 L951 230 L951.25 244.55 L951.5 245 L951.75 244.55 L952 230 L952 230ZM954 230 L954 230 L954.25 239.75 L954.5 250.91 L954.75 262.66 L955 274.81 L955.25 287.28 L955.5 300 L955.75 312.94 L956 326.06 L956.25 354.35 L956.5 354.35 L956.75 354.79 L957 354.35 L957.25 343.5 L957.5 337.88 L957.75 332.3 L958 326.74 L958.25 321.22 L958.5 315.72 L958.75 310.25 L959 304.82 L959.25 299.42 L959.5 294.07 L959.75 288.75 L960 283.47 L960.25 279.36 L960.5 290.32 L960.75 301.47 L961 312.77 L961.25 332.63 L961.5 335.8 L961.75 332.63 L962 309.67 L962.25 296.88 L962.5 284.32 L962.75 272.01 L963 260.02 L963.25 248.47 L963.5 237.57 L963.75 230 L963.75 230ZM965.25 230 L965.25 230 L965.5 234.93 L965.75 242.03 L966 249.55 L966.25 257.36 L966.5 265.37 L966.75 273.56 L967 281.89 L967.25 290.34 L967.5 298.9 L967.75 307.56 L968 316.31 L968.25 325.14 L968.5 334.05 L968.75 351.93 L969 352.07 L969.25 351.93 L969.5 351.93 L969.75 320.26 L970 306.94 L970.25 293.82 L970.5 280.95 L970.75 268.37 L971 256.16 L971.25 244.46 L971.5 233.64 L971.75 230 L971.75 230ZM972.25 230 L972.25 230 L972.5 247.07 L972.75 247.07 L973 247.07 L973.25 247.07 L973.5 230 L973.5 230ZM976.5 230 L976.5 230 L976.75 230.7 L977 235 L977.25 239.74 L977.5 244.71 L977.75 249.83 L978 255.08 L978.25 260.44 L978.5 265.88 L978.75 271.4 L979 279.95 L979.25 279.95 L979.5 279.95 L979.75 256.24 L980 245.38 L980.25 235.23 L980.5 230 L980.5 230Z" fill="#ff0000" fill-opacity="0.59"/>
<path d="M63 480.5 L75.6 480.5 L75.6 468 L85 430.4 L90.2 434.6 L99.6 406.5 L104.8 403.3 L107.5 386.7 L112 383 L115.2 384.6 L120.4 383.5 L121.5 381 L126.5 349.8 L129.9 357.6 L135.6 343.3 L140.3 319.8 L144.7 322.4 L148.1 327.7 L152.3 299.3 L155.1 273.4 L157.3 265.5 L158.8 250.2 L160.2 251.9 L162.4 252.5 L166.4 255.9 L168.1 259.3 L169.8 262.1 L170.3 260.4 L172.6 268.9 L174.3 276.8 L176.5 279 L179.3 289.2 L180.5 291.4 L181.6 288 L183.3 290.3 L184.4 292.5 L185.5 282.4 L186.7 290.3 L188.9 285.8 L192.9 271.7 L195.1 274.5 L197.4 277.9 L199.6 280.7 L203 278.4 L206.4 280.7 L210.9 279.6 L214.9 279.6 L217.7 274.5 L220.5 272.2 L223.4 265.5 L226.7 257.6 L230 262.1 L234.5 258.6 L240.2 261.5 L245.8 256.6 L250.4 255.9 L254.9 244.6 L259.4 228.8 L262.3 211.8 L263.9 197.1 L266.2 203.9 L267.3 200.5 L272.1 203.8 L277.8 215 L280.4 211.6 L283.9 209.5 L287.4 203.8 L292.6 204.3 L296 192.5 L298.6 173.4 L301.3 152.6 L304.4 163.9 L307.3 157.8 L311.7 160.4 L315.1 166.5 L317.2 164.7 L321.7 174.3 L323.8 171.7 L327.3 174.3 L330.8 164.7 L333.4 167.3 L336 165.6 L341.2 168.2 L346.4 172.5 L349.3 178.9 L351.1 177.1 L354.1 180.7 L356.6 177.1 L360.2 179.5 L363.2 183.8 L366.3 189.2 L368.1 188 L369.3 189.8 L374.2 185 L380.3 189.8 L383.9 188.9 L388.2 189.8 L393.6 184.4 L397.3 185.2 L400.9 189.8 L404.6 189.2 L408.8 185.6 L411.9 176.5 L414.3 181.3 L418.6 173.4 L421.6 174.7 L422.8 175.3 L426.3 178.1 L429 174.6 L432.5 176 L436.7 175 L440.1 173.5 L443.6 173.9 L447.1 163.5 L451.9 165.6 L457.5 168.3 L461.7 166.3 L465.8 166.3 L470 162.8 L475.6 160.7 L478.3 154.4 L480 159.3 L484.6 155.1 L488.75 150.3 L491.5 154.4 L495.7 150.3 L497.8 144.7 L500 137.8 L503.3 130.6 L508.9 134 L512.4 129.2 L515.8 119.4 L517.2 118.75 L520 123.6 L524.2 114.6 L527.6 109 L529 108.3 L531.1 99.3 L533.2 86.1 L534.6 88.9 L536 91.7 L537.4 89.6 L542.2 104.2 L545 99.3 L550.6 109 L554.7 102.8 L559.6 108.3 L563.75 112.5 L568.6 106.25 L571.4 111.8 L574.2 108.6 L576.8 111 L580.4 110.7 L585.1 111.25 L587.7 120.6 L590.3 125.8 L592.4 122.2 L595 123.75 L598.1 125.8 L601.8 122.7 L606.5 122.2 L608 116.5 L612.2 114.4 L614.8 106.6 L616.9 104.5 L618.4 106 L621 96.7 L622.6 96.7 L625.7 101.4 L627.8 97.7 L631.5 99.8 L633.5 100.3 L637.2 106 L640.8 101.9 L645.5 107.6 L649.3 109 L653.5 104.7 L657.8 99.8 L660.8 104.7 L662.6 112.6 L665.1 110.2 L668.1 109 L670.5 102.3 L674.2 101.7 L680.3 102.9 L682.7 102.3 L685.7 96.8 L688.2 97.4 L690.6 99.8 L694.2 99.2 L698.5 92 L702.1 86.5 L705.2 85.3 L707 79.2 L709.4 69.5 L711.9 72.5 L714.3 67.6 L716.7 61.5 L718.6 63.4 L720.4 60.3 L724.3 57.9 L726.2 61.7 L728.6 59.3 L731.5 69.3 L734.3 69.8 L739.6 73.6 L744.3 64.1 L747.2 63.1 L750.5 67 L753.9 57.4 L758.2 56.9 L763.4 63.6 L764.9 63.6 L770.1 69.3 L772.5 66.5 L777.3 68.4 L779.7 64.6 L784.9 70.3 L787.8 74.6 L790.2 75.1 L793 83.7 L794.5 84.6 L800.2 79.9 L804.5 84.3 L805.8 83.4 L808.9 85.6 L811.5 85.6 L813.7 83.4 L817.1 89.5 L820.2 88.2 L823.2 89.5 L824.9 87.3 L827.1 81.7 L830.6 80.8 L833.2 82.5 L835.8 76.9 L839.3 75.2 L843.6 77.3 L848.8 78.6 L850.5 74.3 L855.7 75.2 L859.2 76.9 L860.9 79.1 L864.4 78.2 L868.3 76.9 L870.5 72.6 L872.9 70.4 L877.6 66.3 L881.7 64.9 L884.6 68.1 L888.2 62.8 L891.7 55.2 L895.8 55.2 L900.5 58.1 L904 55.2 L906.9 55.8 L911 59.5 L913.4 56.4 L915.7 59.3 L919.8 60.5 L923.9 57.5 L928.6 54.6 L931.5 48.75 L935.6 46.2 L938.6 48.2 L942.1 45.8 L948.5 50.5 L953.2 51.7 L960.2 45.2 L964.9 45.8 L969.6 42.9 L973.7 42.7 L977.2 44.6 L980.2 43.8" fill="none" stroke="#ffffff" stroke-width="1.45" stroke-linejoin="round"/>
<text class="tk" x="75.7" y="520.4" text-anchor="middle">2010</text>
<text class="tk" x="133.13" y="520.4" text-anchor="middle">2011</text>
<text class="tk" x="190.55" y="520.4" text-anchor="middle">2012</text>
<text class="tk" x="248.13" y="520.4" text-anchor="middle">2013</text>
<text class="tk" x="305.56" y="520.4" text-anchor="middle">2014</text>
<text class="tk" x="362.98" y="520.4" text-anchor="middle">2015</text>
<text class="tk" x="420.41" y="520.4" text-anchor="middle">2016</text>
<text class="tk" x="477.99" y="520.4" text-anchor="middle">2017</text>
<text class="tk" x="535.42" y="520.4" text-anchor="middle">2018</text>
<text class="tk" x="592.84" y="520.4" text-anchor="middle">2019</text>
<text class="tk" x="650.27" y="520.4" text-anchor="middle">2020</text>
<text class="tk" x="707.85" y="520.4" text-anchor="middle">2021</text>
<text class="tk" x="765.28" y="520.4" text-anchor="middle">2022</text>
<text class="tk" x="822.7" y="520.4" text-anchor="middle">2023</text>
<text class="tk" x="880.13" y="520.4" text-anchor="middle">2024</text>
<text class="tk" x="937.71" y="520.4" text-anchor="middle">2025</text>
<text class="tk" x="57" y="51.8" text-anchor="end">100,000</text>
<text class="tk" x="57" y="105.96" text-anchor="end">10,000</text>
<text class="tk" x="57" y="160.12" text-anchor="end">1,000</text>
<text class="tk" x="57" y="214.28" text-anchor="end">100</text>
<text class="tk" x="57" y="268.44" text-anchor="end">10</text>
<text class="tk" x="57" y="322.6" text-anchor="end">1</text>
<text class="tk" x="57" y="376.76" text-anchor="end">0</text>
<text class="tk" x="57" y="430.92" text-anchor="end">0</text>
<text class="tk" x="57" y="485.08" text-anchor="end">0</text>
<text class="tk" x="985.5" y="39.78">8,000</text>
<text class="tk" x="985.5" y="88.46">6,000</text>
<text class="tk" x="985.5" y="137.14">4,000</text>
<text class="tk" x="985.5" y="185.82">2,000</text>
<text class="tk" x="985.5" y="234.5">0</text>
<text class="tk" x="985.5" y="283.18">−2,000</text>
<text class="tk" x="985.5" y="331.86">−4,000</text>
<text class="tk" x="985.5" y="380.54">−6,000</text>
<text class="tk" x="985.5" y="429.22">−8,000</text>
<text class="tk" x="985.5" y="477.9">−10,000</text>
<text class="tk" x="521" y="550.5" text-anchor="middle" style="font-size:12.5px">Day</text>
<text class="mono" transform="translate(27.3 261.6) rotate(-90)" text-anchor="middle" style="font-size:12.2px">Price (USD)</text>
<text class="mono" transform="translate(1021 261) rotate(-90)" text-anchor="middle">MACD</text>
<rect x="81" y="42.6" width="129" height="23.6" fill="#000" stroke="#5a5a5a" stroke-width="1"/>
<text class="tk" x="86" y="58.8" style="font-size:11.9px;stroke-width:0">Charts by: @BitboBTC</text>
<rect x="81.2" y="91.5" width="87.2" height="60.5" fill="#000" stroke="#5a5a5a" stroke-width="1"/>
<line x1="85.2" y1="104.5" x2="112.6" y2="104.5" stroke="#7a1a8a" stroke-width="1.5"/>
<text class="lg" x="117" y="108.9">Price</text>
<rect x="93.7" y="115.9" width="10.7" height="10.7" fill="#11ee11"/>
<text class="lg" x="117" y="125.8">MACD</text>
<line x1="85.8" y1="138.2" x2="112" y2="138.2" stroke="#fff" stroke-width="2"/>
<text class="lg" x="117" y="142.7">Signal line</text>
<g id="logo">
<path d="M484 69 L489.5 66 L492.5 67 Q495.2 68 495.2 70.5 V81.5 Q495.2 83.6 493 83.6 L487 84 L484 82.5 Z" fill="#4a0c0c"/>
<g fill="#c8963f">
<rect x="484.1" y="68.8" width="1.2" height="13.6"/>
<rect x="486.8" y="68.2" width="1.2" height="15"/>
</g>
<g fill="none" stroke="#c8963f" stroke-width="1.3" stroke-linejoin="round" stroke-linecap="round">
<path d="M484.5 69.2 L489.5 66.3 L491 66.3"/>
<path d="M487.5 68 H492.3 Q494.6 68 494.6 70.4 V73 Q494.6 75 492.9 75.3 Q494.6 75.7 494.6 77.8 V80.9 Q494.6 83.2 492.3 83.2 H487.5"/>
<path d="M488.2 75.3 H492.5"/>
</g>
<g stroke="#c8963f" stroke-width="0.9" stroke-linecap="round">
<line x1="489.8" y1="73.2" x2="492.2" y2="70.8"/>
<line x1="489.8" y1="80.4" x2="492.2" y2="77.8"/>
</g>
<g fill="none" stroke="#efefef" stroke-width="2.35" stroke-linejoin="round">
<path d="M502.95 70.4 H509.6 Q511.5 70.4 511.5 72.3 V73.1 Q511.5 75 509.6 75 H502.95 Z M502.95 75 H509.6 Q511.5 75 511.5 76.9 V77.65 Q511.5 79.55 509.6 79.55 H502.95 Z"/>
<path d="M518.3 70.4 H528.6 M523.45 70.4 V80.75"/>
<path d="M533.2 70.4 H539.8 Q541.5 70.4 541.5 72.3 V73.1 Q541.5 75 539.8 75 H533.2 Z M533.2 75 H539.8 Q541.5 75 541.5 76.9 V77.65 Q541.5 79.55 539.8 79.55 H533.2 Z"/>
<path d="M548.8 70.4 H550.4 Q554.6 70.4 554.6 74.6 V75.35 Q554.6 79.55 550.4 79.55 H550 Q545.8 79.55 545.8 75.35 V74.6 Q545.8 70.4 550 70.4 Z"/>
</g>
<rect x="514.6" y="69.2" width="2.4" height="2.1" fill="#efefef"/>
<rect x="514.6" y="72.4" width="2.4" height="8.35" fill="#efefef"/>
</g>
</svg>
</body></html>
